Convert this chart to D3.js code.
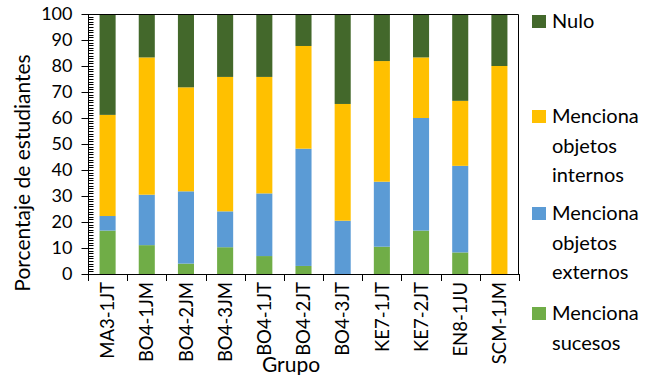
<!DOCTYPE html>
<html>
<head>
<meta charset="utf-8">
<script src="https://cdn.jsdelivr.net/npm/d3@7"></script>
<style>
  html, body { margin: 0; padding: 0; background: #fff; }
  svg { display: block; font-family: Lato, "Liberation Sans", sans-serif; }
</style>
</head>
<body>
<svg id="chart" width="663" height="375"></svg>
<script>
// Groups along the x axis
const groups = ["MA3-1JT", "BO4-1JM", "BO4-2JM", "BO4-3JM", "BO4-1JT", "BO4-2JT",
                "BO4-3JT", "KE7-1JT", "KE7-2JT", "EN8-1JU", "SCM-1JM"];

// Percentage of students per response type (stacked bottom to top)
const sucesos  = [16.7, 11.1,  4.0, 10.3,  6.9,  3.1,  0.0, 10.5, 16.7,  8.3,  0.0];
const externos = [ 5.6, 19.4, 27.8, 13.8, 24.1, 45.1, 20.5, 25.0, 43.3, 33.3,  0.0];
const internos = [38.9, 52.8, 40.0, 51.7, 44.8, 39.5, 44.9, 46.4, 23.3, 25.0, 80.0];
const nulo     = [38.8, 16.7, 28.2, 24.2, 24.2, 12.3, 34.6, 18.1, 16.7, 33.4, 20.0];

const seriesNames  = ["Menciona sucesos", "Menciona objetos externos", "Menciona objetos internos", "Nulo"];
const seriesColors = ["#70AD47", "#5B9BD5", "#FFC000", "#43682B"];
const yTicks = [0, 10, 20, 30, 40, 50, 60, 70, 80, 90, 100];

const rows = groups.map((g, i) => ({
  group: g,
  s0: sucesos[i], s1: externos[i], s2: internos[i], s3: nulo[i]
}));
const keys = ["s0", "s1", "s2", "s3"];

const svg = d3.select("#chart");
const m = { left: 88, right: 519, top: 14, bottom: 274 };

const x = d3.scaleBand().domain(groups).range([m.left, m.right]).paddingInner(0.59).paddingOuter(0.295);
const xEdges = d3.scaleLinear().domain([0, groups.length]).range([m.left, m.right]);
const y = d3.scaleLinear().domain([0, 100]).range([m.bottom, m.top]);

const stack = d3.stack().keys(keys)(rows);

// stacked bars
svg.append("g").selectAll("g")
  .data(stack)
  .join("g")
  .attr("fill", (d, i) => seriesColors[i])
  .selectAll("rect")
  .data(d => d)
  .join("rect")
  .attr("x", d => x(d.data.group))
  .attr("width", x.bandwidth())
  .attr("y", d => y(d[1]))
  .attr("height", d => Math.max(0, y(d[0]) - y(d[1])));

// frame: top and right edges
svg.append("path")
  .attr("d", `M${m.left},${m.top + 0.5}H${m.right - 0.5}V${m.bottom}`)
  .attr("fill", "none").attr("stroke", "#000").attr("stroke-width", 1);

// y axis: major ticks crossing the line, minor ticks every unit inside
const yAxis = svg.append("g").attr("transform", `translate(${m.left + 0.5},0)`);
yAxis.append("line").attr("y1", m.top).attr("y2", m.bottom).attr("stroke", "#000");
yAxis.selectAll("line.minor")
  .data(d3.range(0, 101))
  .join("line").attr("class", "minor")
  .attr("x1", 0).attr("x2", 5)
  .attr("y1", d => Math.round(y(d)) + 0.5).attr("y2", d => Math.round(y(d)) + 0.5)
  .attr("stroke", "#000");
yAxis.selectAll("line.major")
  .data(yTicks)
  .join("line").attr("class", "major")
  .attr("x1", -7).attr("x2", 2)
  .attr("y1", d => Math.round(y(d)) + 0.5).attr("y2", d => Math.round(y(d)) + 0.5)
  .attr("stroke", "#000");
yAxis.selectAll("text")
  .data(yTicks)
  .join("text")
  .attr("x", -16).attr("y", d => y(d))
  .attr("dy", "0.36em")
  .attr("text-anchor", "end")
  .attr("font-size", 18)
  .attr("fill", "#000")
  .text(d => d);

// x axis
const xAxis = svg.append("g");
xAxis.append("line")
  .attr("x1", m.left).attr("x2", m.right)
  .attr("y1", m.bottom + 0.5).attr("y2", m.bottom + 0.5)
  .attr("stroke", "#000");
xAxis.selectAll("line.tick")
  .data(d3.range(0, groups.length + 1))
  .join("line").attr("class", "tick")
  .attr("x1", d => Math.round(xEdges(d)) + 0.5).attr("x2", d => Math.round(xEdges(d)) + 0.5)
  .attr("y1", m.bottom).attr("y2", m.bottom + 7)
  .attr("stroke", "#000");
xAxis.selectAll("text")
  .data(groups)
  .join("text")
  .attr("transform", d => `translate(${x(d) + x.bandwidth() / 2},${m.bottom + 8}) rotate(-90)`)
  .attr("dy", "0.36em")
  .attr("text-anchor", "end")
  .attr("font-size", 18.5)
  .attr("fill", "#000")
  .text(d => d);

// axis titles
svg.append("text")
  .attr("transform", `translate(30,173) rotate(-90)`)
  .attr("text-anchor", "middle")
  .attr("font-size", 21)
  .attr("fill", "#000")
  .text("Porcentaje de estudiantes");
svg.append("text")
  .attr("x", 291).attr("y", 372)
  .attr("text-anchor", "middle")
  .attr("font-size", 21)
  .attr("fill", "#000")
  .text("Grupo");

// legend (top to bottom: Nulo, internos, externos, sucesos)
const legendItems = [
  { lines: ["Nulo"], color: seriesColors[3], top: 15 },
  { lines: ["Menciona", "objetos", "internos"], color: seriesColors[2], top: 110 },
  { lines: ["Menciona", "objetos", "externos"], color: seriesColors[1], top: 207 },
  { lines: ["Menciona", "sucesos"], color: seriesColors[0], top: 307 }
];
const legend = svg.append("g");
legendItems.forEach(item => {
  legend.append("rect")
    .attr("x", 532).attr("y", item.top)
    .attr("width", 14).attr("height", 13)
    .attr("fill", item.color);
  const t = legend.append("text")
    .attr("x", 552).attr("y", item.top + 13)
    .attr("font-size", 20)
    .attr("fill", "#000");
  item.lines.forEach((ln, i) => {
    t.append("tspan").attr("x", 552).attr("dy", i === 0 ? 0 : 29.5).text(ln);
  });
});
</script>
</body>
</html>
